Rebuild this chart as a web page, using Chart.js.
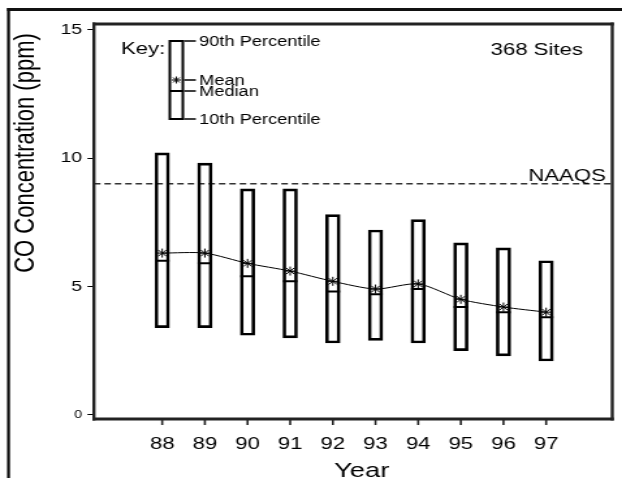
<!DOCTYPE html>
<html>
<head>
<meta charset="utf-8">
<script src="https://cdn.jsdelivr.net/npm/chart.js@4.4.1/dist/chart.umd.min.js"></script>
<style>
  body { margin: 0; background: #fff; width: 622px; height: 478px; overflow: hidden; position: relative; }
  /* the chart is drawn narrow and widened, like the original print */
  #chart { position: absolute; left: 0; top: 0; transform: scaleX(1.3013); transform-origin: 0 0; }
</style>
</head>
<body>
<canvas id="chart" width="478" height="478"></canvas>
<script>
// CO concentrations, 368 sites, 1988-1997
const years = [88, 89, 90, 91, 92, 93, 94, 95, 96, 97];
const p90 = [10.2, 9.8, 8.8, 8.8, 7.8, 7.2, 7.6, 6.7, 6.5, 6.0];
const p10 = [3.4, 3.4, 3.1, 3.0, 2.8, 2.9, 2.8, 2.5, 2.3, 2.1];
const medians = [6.0, 5.9, 5.4, 5.2, 4.8, 4.7, 4.9, 4.2, 4.0, 3.8];
const means = [6.3, 6.3, 5.9, 5.6, 5.2, 4.9, 5.1, 4.5, 4.2, 4.0];
const yTicks = [0, 5, 10, 15];
const naaqs = 9;

const xMin = 86.4, xMax = 98.55;
const yMin = -0.16, yMax = 15.22;
const yTitle = "CO Concentration (ppm)";
const xTitle = "Year";
const sitesLabel = "368 Sites";
const naaqsLabel = "NAAQS";
const keyTitle = "Key:";
const keyLabels = ["90th Percentile", "Mean", "Median", "10th Percentile"];

const FONT = '"Liberation Sans", Arial, Helvetica, sans-serif';

// small asterisk like the plotted means
function drawAsterisk(ctx, x, y, r) {
  ctx.beginPath();
  for (let k = 0; k < 4; k++) {
    const ang = k * Math.PI / 4;
    ctx.moveTo(x - Math.cos(ang) * r, y - Math.sin(ang) * r);
    ctx.lineTo(x + Math.cos(ang) * r, y + Math.sin(ang) * r);
  }
  ctx.stroke();
}

// page frame (top and left edges), plot box and x tick marks
const frames = {
  id: "frames",
  afterDraw(chart) {
    const ctx = chart.ctx;
    const xs = chart.scales.x;
    const ys = chart.scales.y;
    const left = xs.getPixelForValue(xMin), right = xs.getPixelForValue(xMax);
    const top = ys.getPixelForValue(yMax), bottom = ys.getPixelForValue(yMin);
    ctx.save();
    ctx.fillStyle = "#111";
    ctx.fillRect(5.4, 8, 2.3, chart.height - 8);
    ctx.fillRect(5.4, 8, chart.width, 3);

    ctx.fillStyle = "#222";
    ctx.fillRect(left - 1.2, top - 1.5, right - left + 2.4, 3);
    ctx.fillRect(left - 1.2, bottom - 1.5, right - left + 2.4, 3);
    ctx.fillRect(left - 1.2, top - 1.5, 2.4, bottom - top + 3);
    ctx.fillRect(right - 1.2, top - 1.5, 2.4, bottom - top + 3);
    years.forEach(yr => {
      ctx.fillRect(xs.getPixelForValue(yr) - 0.8, bottom, 1.6, 6);
    });
    ctx.restore();
  }
};

// titles, NAAQS label and the key box
const annotations = {
  id: "annotations",
  afterDraw(chart) {
    const ctx = chart.ctx;
    const xs = chart.scales.x;
    const ys = chart.scales.y;
    ctx.save();
    ctx.fillStyle = "#000";
    ctx.strokeStyle = "#000";
    ctx.textBaseline = "alphabetic";
    ctx.font = "17px " + FONT;
    ctx.textAlign = "right";
    ctx.fillText(naaqsLabel, xs.getPixelForValue(xMax) - 5, ys.getPixelForValue(naaqs) - 3);
    ctx.textAlign = "left";
    ctx.fillText(sitesLabel, 377, 55);
    ctx.fillText(keyTitle, 93, 54);

    // axis titles
    ctx.font = "21px " + FONT;
    ctx.textAlign = "center";
    ctx.fillText(xTitle, 278, 477);
    ctx.save();
    ctx.translate(20, 153);
    ctx.rotate(-Math.PI / 2);
    ctx.font = "22px " + FONT;
    ctx.textBaseline = "middle";
    ctx.fillText(yTitle, 0, 0);
    ctx.restore();

    // key
    const kx = 135.5, kw = 10;
    const rows = [41, 80, 91, 119];
    ctx.lineWidth = 2;
    ctx.strokeRect(kx - kw / 2, rows[0], kw, rows[3] - rows[0]);
    ctx.beginPath();
    ctx.moveTo(kx - kw / 2, rows[2]);
    ctx.lineTo(kx + kw / 2, rows[2]);
    ctx.stroke();
    ctx.lineWidth = 1;
    drawAsterisk(ctx, kx, rows[1], 3.5);
    ctx.font = "14px " + FONT;
    ctx.textAlign = "left";
    ctx.textBaseline = "middle";
    ctx.lineWidth = 1.5;
    keyLabels.forEach((label, i) => {
      ctx.beginPath();
      ctx.moveTo(kx + kw / 2 + 1, rows[i]);
      ctx.lineTo(kx + kw / 2 + 10, rows[i]);
      ctx.stroke();
      ctx.fillText(label, 153, rows[i] + 1);
    });
    ctx.restore();
  }
};

new Chart(document.getElementById("chart"), {
  data: {
    datasets: [
      {
        type: "line",
        label: "Mean",
        data: years.map((yr, i) => ({ x: yr, y: means[i] })),
        borderColor: "#000",
        borderWidth: 1,
        tension: 0.25,
        pointStyle: "star",
        pointRadius: 4.5,
        pointBorderColor: "#000",
        pointBorderWidth: 1
      },
      {
        type: "scatter",
        label: "Median",
        data: years.map((yr, i) => ({ x: yr, y: medians[i] })),
        pointStyle: "line",
        pointRadius: 5.5,
        pointBorderColor: "#000",
        pointBorderWidth: 2
      },
      {
        type: "bar",
        label: "10th-90th Percentile",
        data: years.map((yr, i) => ({ x: yr, y: [p10[i], p90[i]] })),
        backgroundColor: "rgba(0,0,0,0)",
        borderColor: "#000",
        borderWidth: 2,
        borderSkipped: false,
        barThickness: 11
      },
      {
        type: "line",
        label: "NAAQS",
        data: [{ x: xMin, y: naaqs }, { x: xMax, y: naaqs }],
        borderColor: "#333",
        borderWidth: 1.3,
        borderDash: [5, 3],
        pointRadius: 0
      }
    ]
  },
  options: {
    responsive: false,
    animation: false,
    layout: { padding: { top: 24, right: 6.5, left: 0, bottom: 0 } },
    plugins: {
      legend: { display: false },
      tooltip: { enabled: false }
    },
    scales: {
      x: {
        type: "linear",
        min: xMin,
        max: xMax,
        offset: false,
        afterBuildTicks: scale => { scale.ticks = years.map(v => ({ value: v })); },
        afterFit: scale => { scale.height = 59; },
        border: { display: false },
        grid: { display: false },
        ticks: {
          color: "#000",
          padding: 7,
          maxRotation: 0,
          font: { family: FONT, size: 17 },
          callback: v => String(v)
        }
      },
      y: {
        min: yMin,
        max: yMax,
        afterBuildTicks: scale => { scale.ticks = yTicks.map(v => ({ value: v })); },
        afterFit: scale => { scale.width = 72.2; },
        border: { display: false },
        grid: { drawOnChartArea: false, tickLength: 5, color: "#000", lineWidth: 1 },
        ticks: {
          color: "#000",
          padding: 4,
          font: ctx => ({ family: FONT, size: ctx.tick && ctx.tick.value === 0 ? 11 : 15 }),
          callback: v => String(v)
        }
      }
    }
  },
  plugins: [frames, annotations]
});
</script>
</body>
</html>
